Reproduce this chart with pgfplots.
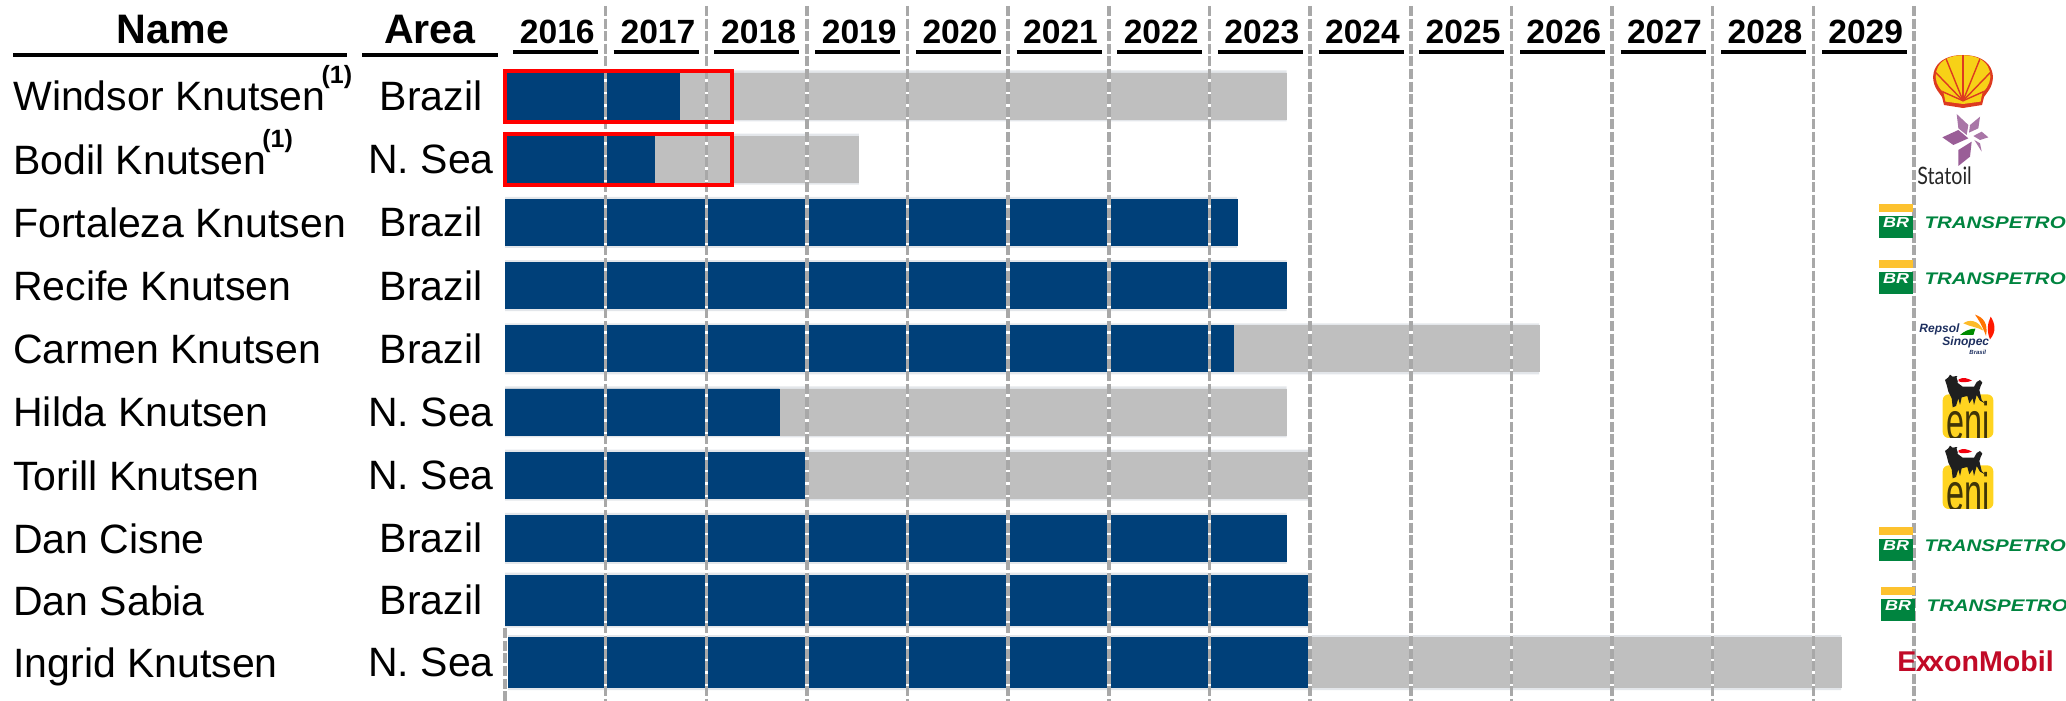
\documentclass[border=0pt]{standalone}
\usepackage{pgfplots}
\usepackage{pgfplotstable}
\usepackage{fontspec}
\pgfplotsset{compat=1.18}
\setmainfont{Liberation Sans}
\newfontfamily\statoilfont{Lato}

\definecolor{firm}{HTML}{004079}
\definecolor{option}{HTML}{BFBFBF}
\definecolor{edge}{HTML}{E3E6EA}
\definecolor{gridgrey}{HTML}{A8A8A8}
\definecolor{brgreen}{HTML}{00843F}
\definecolor{bryellow}{HTML}{FDC22F}
\definecolor{shellred}{HTML}{DD3A20}
\definecolor{shellyellow}{HTML}{F7D117}
\definecolor{statpurple}{HTML}{9A5E97}
\definecolor{repsolnavy}{HTML}{1D2F5F}
\definecolor{eniyellow}{HTML}{FFD420}
\definecolor{exxonred}{HTML}{C10A27}

% Contract length in years from the start of 2016: firm period and firm plus options
\pgfplotstableread{
row firm total
1      1.735 7.765
2      1.485 3.515
3      7.275 7.275
4      7.765 7.765
5      7.235 10.275
6      2.725 7.765
7      2.975 8.005
8      7.765 7.765
}\fleet
\pgfplotstableread{
row    firm  total
8.975  7.985 7.985
9.964  7.985 13.275
}\fleetlower

\newcommand{\refnote}{\hspace{-2pt}\raisebox{13.5pt}{\fontsize{12.5}{12.5}\selectfont\bfseries (1)}}

% BR flag with the TRANSPETRO wordmark; arguments are the left edge and the top of the yellow bar
\newcommand{\brlogo}[2]{%
  \fill[bryellow] (#1,#2) rectangle (#1+34,#2+8);
  \fill[brgreen] (#1,#2+12) rectangle (#1+34,#2+34);
  \node[text=white,font=\fontsize{7.2}{7.2}\selectfont\bfseries\itshape,inner sep=0pt,xscale=1.25,transform shape] at (#1+17,#2+19) {BR};
  \node[text=brgreen,font=\fontsize{8.4}{8.4}\selectfont\bfseries\itshape,inner sep=0pt,anchor=west,xscale=1.22,transform shape] at (#1+45,#2+19) {TRANSPETRO};
}

% Six-legged dog over a yellow square with the eni lettering; argument is the vertical offset
\newcommand{\enilogo}[1]{%
  \begin{scope}[shift={(1930,370+#1)},xscale=1/3,yscale=1/3]
    \fill[eniyellow,rounded corners=3pt] (38,73) rectangle (190,204);
    \begin{scope}
      \clip (38,73) rectangle (190,204);
      \node[text=black!75!eniyellow,font=\fontsize{81}{81}\selectfont,inner sep=0pt,anchor=base,xscale=0.6,transform shape] at (114,212) {eni};
    \end{scope}
    \fill[black!88] (45,30)--(55,22)--(60,14)--(68,20)--(80,18)--(88,28)--(82,38)--(98,50)--(132,50)--(140,36)--(150,30)--(157,38)--(152,48)--(148,60)--(155,90)--(165,100)--(150,92)--(140,75)--(132,105)--(128,85)--(118,100)--(112,78)--(95,82)--(90,105)--(85,85)--(78,108)--(68,112)--(65,85)--(55,65)--(50,45)--cycle;
    \fill[white] (80,22) .. controls (95,12) and (115,22) .. (128,32) .. controls (110,46) and (90,46) .. (84,36) -- cycle;
    \fill[red!80!purple] (86,28) .. controls (100,20) and (115,26) .. (126,32) .. controls (110,38) and (95,38) .. (86,34) -- cycle;
  \end{scope}
}

\begin{document}
\begin{tikzpicture}
\path[use as bounding box] (0,0) rectangle (1033pt,350.5pt);

\begin{axis}[
  at={(252.5pt,0pt)}, anchor=south west,
  width=704.5pt, height=321.5pt, scale only axis,
  xmin=0, xmax=14, ymin=0.399, ymax=10.573,
  y dir=reverse, clip=false,
  axis line style={draw=none},
  major tick length=0pt,
  xticklabel pos=top,
  xtick={0.5,1.5,...,13.5},
  xticklabels={2016,2017,2018,2019,2020,2021,2022,2023,2024,2025,2026,2027,2028,2029},
  xticklabel style={font=\fontsize{16.8}{16.8}\selectfont\bfseries,anchor=base,yshift=7.5pt,xshift=1pt,inner sep=0pt},
  ytick={1,2,3,4,5,6,7,8,8.975,9.964},
  yticklabels={Windsor Knutsen\refnote,Bodil Knutsen\refnote,Fortaleza Knutsen,Recife Knutsen,Carmen Knutsen,Hilda Knutsen,Torill Knutsen,Dan Cisne,Dan Sabia,Ingrid Knutsen},
  yticklabel style={font=\fontsize{20.5}{20.5}\selectfont,anchor=west,inner sep=0pt,text height=19pt,text depth=4pt,xshift=-246pt},
  bar shift=0pt,
]
% Pale outline behind each row, then options and firm period
\addplot[xbar,bar width=25.5pt,fill=edge,draw=none] table[x=total,y=row] {\fleet};
\addplot[xbar,bar width=23pt,fill=option,draw=option,line width=0.3pt] table[x=total,y=row] {\fleet};
\addplot[xbar,bar width=23pt,fill=firm,draw=firm,line width=0.3pt] table[x=firm,y=row] {\fleet};
\addplot[xbar,bar width=27.5pt,fill=edge,draw=none] table[x=total,y=row] {\fleetlower};
\addplot[xbar,bar width=25pt,fill=option,draw=option,line width=0.3pt] table[x=total,y=row] {\fleetlower};
\addplot[xbar,bar width=25pt,fill=firm,draw=firm,line width=0.3pt] table[x=firm,y=row] {\fleetlower};
\addplot[xbar,bar width=28pt,fill=white,draw=none] coordinates {(0.025,9.964)};

% Year separators
\pgfplotsinvokeforeach{1,...,14}{
  \addplot[sharp plot,white,line width=1.75pt,forget plot] coordinates {(#1,-0.424)(#1,10.573)};
  \addplot[sharp plot,gridgrey,line width=1.75pt,dash pattern=on 5pt off 1.3pt,forget plot] coordinates {(#1,-0.424)(#1,10.573)};
}
\addplot[sharp plot,gridgrey,line width=1.75pt,dash pattern=on 5pt off 1.3pt,forget plot] coordinates {(0,9.42)(0,10.573)};
\end{axis}

\begin{scope}[shift={(0,350.5pt)},x=0.5pt,y=-0.5pt]
  % Column headers
  \node[font=\fontsize{20.6}{20.6}\selectfont\bfseries,inner sep=0pt,anchor=base] at (173,43.5) {Name};
  \node[font=\fontsize{20.6}{20.6}\selectfont\bfseries,inner sep=0pt,anchor=base] at (430,43.5) {Area};
  \draw[black,line width=2.3pt] (13,55) -- (347,55);
  \draw[black,line width=2.3pt] (362,55) -- (498,55);
  \foreach \i in {0,...,13} {
    \draw[black,line width=2pt] (513+100.7*\i,52) -- (598+100.7*\i,52);
  }

  % Operating area of each vessel
  \foreach \y/\a in {111/Brazil,174/N. Sea,237/Brazil,300.5/Brazil,363.5/Brazil,426.5/N. Sea,490/N. Sea,553/Brazil,615/Brazil,677/N. Sea} {
    \node[font=\fontsize{20.5}{20.5}\selectfont,inner sep=0pt,anchor=base] at (431,\y) {\a};
  }

  % Contracts under review
  \draw[red,line width=2.3pt] (505,71) rectangle (732,122);
  \draw[red,line width=2.3pt] (505,134) rectangle (732,185);

  % Shell
  \fill[shellred] (1963,108) -- (1944,105) -- (1942,97) -- (1937,90) .. controls (1928,76) and (1934,55) .. (1963,55) .. controls (1992,55) and (1998,76) .. (1989,90) -- (1984,97) -- (1982,105) -- cycle;
  \begin{scope}[shift={(1963,80)},scale=0.8]
    \clip (0,30) -- (-22,27) -- (-24,17) -- (-30,9) .. controls (-40,-6) and (-33,-31) .. (0,-31) .. controls (33,-31) and (40,-6) .. (30,9) -- (24,17) -- (22,27) -- cycle;
    \fill[shellyellow] (-45,-35) rectangle (45,32);
    \foreach \a in {-66,-44,-22,0,22,44,66} {
      \draw[shellred,line width=0.7pt] (0,26) -- ++(-90+\a:70);
    }
  \end{scope}

  % Statoil
  \begin{scope}[shift={(1925,50)},xscale=1/3,yscale=1/3]
    \fill[statpurple!85] (95,192)--(130,225)--(125,255)--(100,235)--cycle;
    \fill[statpurple!85] (165,200)--(135,225)--(132,248)--(160,235)--cycle;
    \fill[statpurple!85] (190,262)--(165,270)--(145,258)--(170,245)--cycle;
    \fill[statpurple!85] (170,305)--(148,270)--(165,280)--cycle;
    \fill[statpurple] (100,348)--(135,320)--(140,275)--(100,300)--cycle;
    \fill[statpurple] (52,262)--(100,240)--(130,265)--(85,285)--cycle;
  \end{scope}
  \node[font=\fontsize{12}{12}\statoilfont\selectfont,text=black!85,inner sep=0pt,anchor=base west,xscale=0.82,transform shape] at (1917,185) {Statoil};

  % Transpetro charters
  \brlogo{1879}{204}
  \brlogo{1879}{260}
  \brlogo{1879}{527}
  \brlogo{1881}{587}

  % Repsol Sinopec
  \begin{scope}[shift={(1900,300)},xscale=1/3,yscale=1/3]
    \fill[bryellow!90!orange] (190,70) .. controls (205,58) and (235,58) .. (250,92) .. controls (235,82) and (210,80) .. (190,70) -- cycle;
    \fill[orange!90!red] (225,44) .. controls (250,52) and (265,70) .. (258,108) .. controls (250,85) and (240,65) .. (225,44) -- cycle;
    \fill[red!80!orange] (272,50) .. controls (285,70) and (290,95) .. (270,118) .. controls (260,95) and (262,70) .. (272,50) -- cycle;
    \fill[green!55!black] (180,105) .. controls (190,95) and (210,85) .. (226,86) -- (220,105) -- cycle;
  \end{scope}
  \node[font=\fontsize{6}{6}\selectfont\itshape,text=repsolnavy,inner sep=0pt,anchor=base west] at (1919,333) {\bfseries Repsol};
  \node[font=\fontsize{6}{6}\selectfont\itshape,text=repsolnavy,inner sep=0pt,anchor=base west] at (1942,346) {\bfseries Sinopec};
  \node[font=\fontsize{3}{3}\selectfont\itshape,text=repsolnavy,inner sep=0pt,anchor=base west] at (1969,355) {\bfseries Brasil};

  % Eni
  \enilogo{0}
  \enilogo{71}

  % ExxonMobil
  \node[font=\fontsize{14.3}{14.3}\selectfont\bfseries,text=exxonred,inner sep=0pt,anchor=base west] at (1897,672) {E\kern-0.3pt x\kern-1.8pt xonMobil};
\end{scope}
\end{tikzpicture}
\end{document}
